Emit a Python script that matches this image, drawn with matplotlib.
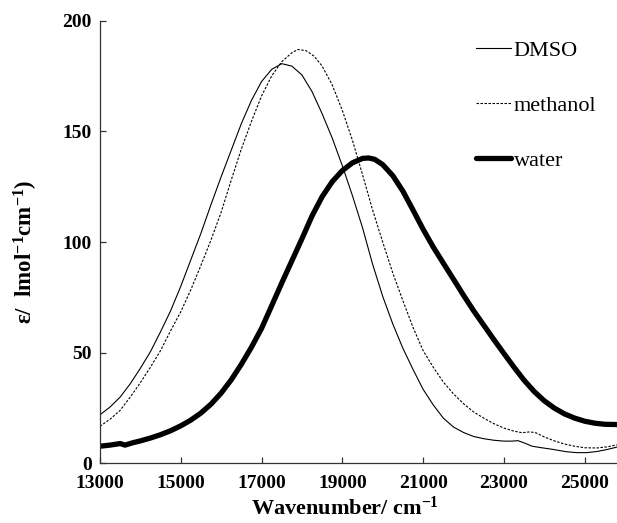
import matplotlib
matplotlib.use('Agg')
import matplotlib.pyplot as plt

# absorption spectra (wavenumber in cm-1, epsilon)
dmso_x = [13000, 13250, 13500, 13750, 14000, 14250, 14500, 14750, 15000, 15250,
          15500, 15750, 16000, 16250, 16500, 16750, 17000, 17250, 17500, 17750,
          18000, 18250, 18500, 18750, 19000, 19250, 19500, 19750, 20000, 20250,
          20500, 20750, 21000, 21250, 21500, 21750, 22000, 22250, 22500, 22750,
          23000, 23200, 23350, 23500, 23700, 23900, 24200, 24550, 24800, 25050,
          25300, 25550, 25800]
dmso_y = [22, 25.5, 30, 36, 43, 50.5, 59.5, 69, 80, 92,
          104, 117, 129.5, 141.5, 153.5, 164, 172.5, 178, 180.6, 179.5,
          175.5, 168, 158, 147, 134.5, 121, 106.5, 90, 75.5, 63,
          52, 42.5, 33.5, 26.5, 20.5, 16.5, 14, 12.2, 11.2, 10.5,
          10.1, 10.1, 10.3, 9.3, 7.8, 7.2, 6.4, 5.3, 4.9, 4.9,
          5.4, 6.3, 7.4]

meoh_x = [13000, 13250, 13500, 13750, 14000, 14250, 14500, 14750, 15000, 15250,
          15500, 15750, 16000, 16250, 16500, 16750, 17000, 17250, 17500, 17750,
          17900, 18100, 18300, 18500, 18750, 19000, 19250, 19500, 19750, 20000,
          20250, 20500, 20750, 21000, 21250, 21500, 21750, 22000, 22250, 22500,
          22750, 23000, 23250, 23450, 23650, 23800, 24000, 24250, 24500, 24750,
          25000, 25300, 25550, 25800]
meoh_y = [16.8, 20, 24, 30, 36.5, 43.5, 51, 60, 68.5, 78.5,
          89.5, 101, 113.5, 128, 142, 154.5, 166, 175, 181.5, 185.5,
          187, 186.5, 184, 179.5, 171, 159.5, 146, 130.5, 114.5, 100,
          86, 73.5, 61.5, 51, 43.5, 36.8, 31.5, 27, 23.3, 20.5,
          18, 16, 14.6, 13.9, 14.3, 13.8, 12, 10.2, 8.8, 7.8,
          7.1, 7, 7.5, 8.4]

water_x = [13000, 13250, 13500, 13620, 13800, 14000, 14250, 14500, 14750, 15000,
           15250, 15500, 15750, 16000, 16250, 16500, 16750, 17000, 17250, 17500,
           17750, 18000, 18250, 18500, 18750, 19000, 19250, 19500, 19650, 19800,
           20000, 20250, 20500, 20750, 21000, 21250, 21500, 21750, 22000, 22250,
           22500, 22750, 23000, 23250, 23500, 23750, 24000, 24250, 24500, 24750,
           25000, 25250, 25500, 25800]
water_y = [7.8, 8.3, 9, 8.3, 9.3, 10.2, 11.5, 13, 14.8, 17,
           19.6, 22.8, 26.8, 31.8, 37.8, 44.8, 52.5, 61, 71.2, 81.5,
           91.5, 101.5, 111.8, 120.5, 127.3, 132.3, 135.8, 137.8, 138, 137.4,
           135, 130, 123, 114.5, 105.8, 97.8, 90.5, 83.3, 76, 69,
           62.5, 56, 49.7, 43.5, 37.6, 32.5, 28.3, 25, 22.4, 20.5,
           19.1, 18.2, 17.7, 17.6]

xticks = [13000, 15000, 17000, 19000, 21000, 23000, 25000]
yticks = [0, 50, 100, 150, 200]

plt.rcParams['font.family'] = 'Liberation Serif'
plt.rcParams['mathtext.fontset'] = 'custom'
plt.rcParams['mathtext.rm'] = 'Liberation Serif:bold'
plt.rcParams['mathtext.it'] = 'Liberation Serif:bold'
plt.rcParams['mathtext.bf'] = 'Liberation Serif:bold'

fig = plt.figure(figsize=(6.17, 5.23), dpi=100)
ax = fig.add_axes([0.162, 0.1138, 0.838, 0.8466])

ax.plot(dmso_x, dmso_y, color='black', lw=0.8, label='DMSO')
ax.plot(meoh_x, meoh_y, color='black', lw=0.8, linestyle=(0, (2.2, 1.4)), label='methanol')
ax.plot(water_x, water_y, color='black', lw=3.8, label='water', solid_capstyle='round')

ax.set_xlim(13000, 25800)
ax.set_ylim(0, 200)
ax.set_xticks(xticks)
ax.set_yticks(yticks)
ax.set_xticklabels([str(t) for t in xticks], fontweight='bold', fontsize=14)
ax.set_yticklabels([str(t) for t in yticks], fontweight='bold', fontsize=14)

for s in ['top', 'right']:
    ax.spines[s].set_visible(False)
for s in ['left', 'bottom']:
    ax.spines[s].set_linewidth(0.9)
    ax.spines[s].set_color('#333333')
ax.tick_params(axis='both', direction='in', length=4.3, width=0.9, color='#333333')
ax.tick_params(axis='x', pad=8)
ax.tick_params(axis='y', pad=6)

ax.set_xlabel('Wavenumber/ cm$^{-1}$', fontsize=16, fontweight='bold')
ax.xaxis.set_label_coords(0.474, -0.075)
ax.set_ylabel('ε/  lmol$^{-1}$cm$^{-1}$)', fontsize=16.5, fontweight='bold')
ax.yaxis.set_label_coords(-0.115, 0.479)

ax.legend(loc='upper left', bbox_to_anchor=(0.727, 0.955), frameon=False,
          fontsize=16, handlelength=1.6, handletextpad=0.1,
          labelspacing=1.54, borderpad=0, borderaxespad=0)

fig.savefig('out.png', dpi=100)
